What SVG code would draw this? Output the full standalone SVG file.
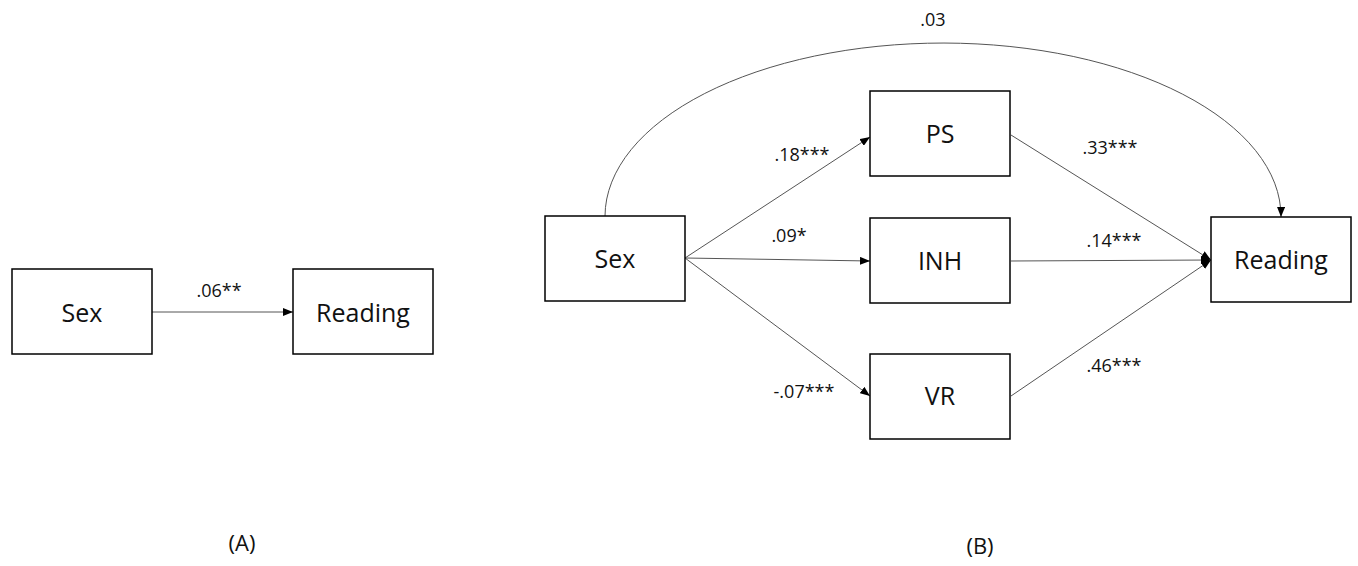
<svg xmlns="http://www.w3.org/2000/svg" width="1358" height="566" viewBox="0 0 1358 566">
  <defs>
    <marker id="arrow" viewBox="0 0 10 8" refX="10" refY="4" markerWidth="10" markerHeight="8" markerUnits="userSpaceOnUse" orient="auto">
      <path d="M0,0 L10,4 L0,8 z" fill="#000"/>
    </marker>
    <style>
      .box { fill: #fff; stroke: #000; stroke-width: 1.5; }
      .node-label { font-family: "Open Sans", "Liberation Sans", sans-serif; font-size: 25px; fill: #111; text-anchor: middle; }
      .edge { fill: none; stroke: #555; stroke-width: 1; marker-end: url(#arrow); }
      .coef { font-family: "Open Sans", "Liberation Sans", sans-serif; font-size: 18px; fill: #111; text-anchor: middle; }
      .panel { font-family: "Open Sans", "Liberation Sans", sans-serif; font-size: 22px; fill: #111; text-anchor: middle; }
    </style>
  </defs>
  <rect width="1358" height="566" fill="#fff"/>

  <!-- Model A: total effect -->
  <g id="connectors-a">
    <line class="edge" x1="152" y1="312" x2="293" y2="312"/>
    <text class="coef" x="219" y="297">.06**</text>
  </g>
  <g id="a-sex">
    <rect class="box" x="12" y="269" width="140" height="85"/>
    <text class="node-label" x="82" y="322">Sex</text>
  </g>
  <g id="a-reading">
    <rect class="box" x="293" y="269" width="140" height="85"/>
    <text class="node-label" x="363" y="322">Reading</text>
  </g>
  <text class="panel" x="242" y="551">(A)</text>

  <!-- Model B: mediation through PS, INH and VR -->
  <g id="connectors-b">
    <path class="edge" d="M605,216 A337,173 0 0 1 1281,217"/>
    <line class="edge" x1="685" y1="258" x2="870" y2="137"/>
    <line class="edge" x1="685" y1="258" x2="870" y2="261"/>
    <line class="edge" x1="685" y1="258" x2="870" y2="396"/>
    <line class="edge" x1="1011" y1="135" x2="1211" y2="260"/>
    <line class="edge" x1="1011" y1="261" x2="1211" y2="260"/>
    <line class="edge" x1="1011" y1="396" x2="1211" y2="260"/>
    <text class="coef" x="933" y="26">.03</text>
    <text class="coef" x="802" y="161">.18***</text>
    <text class="coef" x="1110" y="154">.33***</text>
    <text class="coef" x="789" y="242">.09*</text>
    <text class="coef" x="1114" y="247">.14***</text>
    <text class="coef" x="804" y="398">-.07***</text>
    <text class="coef" x="1114" y="372">.46***</text>
  </g>
  <g id="b-sex">
    <rect class="box" x="545" y="216" width="140" height="85"/>
    <text class="node-label" x="615" y="268">Sex</text>
  </g>
  <g id="b-ps">
    <rect class="box" x="870" y="91" width="140" height="85"/>
    <text class="node-label" x="940" y="143">PS</text>
  </g>
  <g id="b-inh">
    <rect class="box" x="870" y="218" width="140" height="85"/>
    <text class="node-label" x="940" y="270">INH</text>
  </g>
  <g id="b-vr">
    <rect class="box" x="870" y="354" width="140" height="85"/>
    <text class="node-label" x="940" y="405">VR</text>
  </g>
  <g id="b-reading">
    <rect class="box" x="1211" y="217" width="140" height="85"/>
    <text class="node-label" x="1281" y="269">Reading</text>
  </g>
  <text class="panel" x="980" y="554">(B)</text>
</svg>
